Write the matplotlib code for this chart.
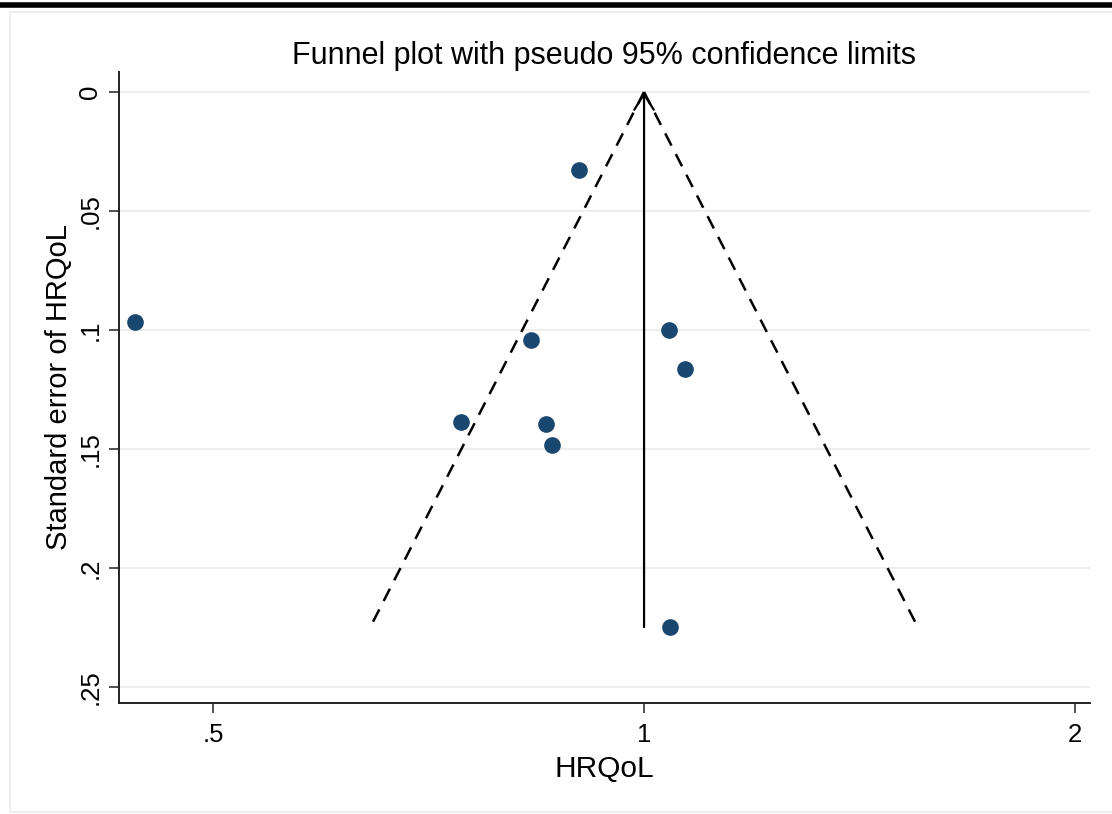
import numpy as np
import matplotlib
matplotlib.use("Agg")
import matplotlib.pyplot as plt
from matplotlib.patches import Rectangle, FancyArrowPatch
from matplotlib.lines import Line2D

# Study effects (ratio scale) and standard errors
effect = [0.900, 0.441, 0.834, 1.041, 1.068, 0.745, 0.854, 0.862, 1.043]
se = [0.0328, 0.0966, 0.1042, 0.1000, 0.1164, 0.1387, 0.1395, 0.1483, 0.2248]
pooled = 1.0
xticks = [0.5, 1, 2]
xticklabels = [".5", "1", "2"]
yticks = [0, 0.05, 0.1, 0.15, 0.2, 0.25]
yticklabels = ["0", ".05", ".1", ".15", ".2", ".25"]

plt.rcParams['font.family'] = ['Liberation Sans', 'DejaVu Sans']

W, H = 1112, 814
fig = plt.figure(figsize=(W / 100, H / 100), dpi=100)
fig.patch.set_facecolor('white')

# outer decorations
fig.add_artist(Line2D([0, 1], [1 - 4.5 / H, 1 - 4.5 / H], transform=fig.transFigure,
                      color='black', lw=4))
fig.add_artist(Rectangle((10 / W, 2 / H), 1.2, 1 - 14 / H, transform=fig.transFigure,
                         fill=False, edgecolor='#ebebeb', lw=1.2))

ax = fig.add_axes([119 / W, 1 - 703 / H, (1090 - 119) / W, (703 - 72) / H])
ax.set_xscale('log')
ax.set_xlim(0.4295, 2.05)
ax.set_ylim(0.2567, -0.0084)

for v in yticks:
    ax.axhline(v, color='#ececec', lw=1.3, zorder=0)

se_max = max(se)
z = 1.96
s = np.array([0.0, se_max])
ax.plot(pooled * np.exp(-z * s), s, color='black', lw=1.8, dashes=(5.5, 3.8), zorder=2)
ax.plot(pooled * np.exp(z * s), s, color='black', lw=1.8, dashes=(5.5, 3.8), zorder=2)
arr = FancyArrowPatch((pooled, se_max), (pooled, 0.0), arrowstyle='->,head_length=0.45,head_width=0.28',
                      mutation_scale=25, color='black', lw=1.6, shrinkA=0, shrinkB=0, zorder=2)
ax.add_patch(arr)

ax.plot(effect, se, 'o', color='#1a476f', markersize=12, markeredgewidth=0, zorder=3)

ax.set_xticks(xticks)
ax.set_xticklabels(xticklabels)
ax.xaxis.set_minor_locator(matplotlib.ticker.NullLocator())
ax.set_yticks(yticks)
ax.set_yticklabels(yticklabels, rotation=90, va='center')

ax.tick_params(axis='both', direction='out', length=7, width=1.2, color='#333333',
               labelsize=18.5, pad=5)
ax.tick_params(axis='x', pad=7.5)

for side in ['top', 'right']:
    ax.spines[side].set_visible(False)
for side in ['left', 'bottom']:
    ax.spines[side].set_linewidth(1.4)
    ax.spines[side].set_color('#222222')

ax.set_xlabel('HRQoL', fontsize=21.5)
ax.set_ylabel('Standard error of HRQoL', fontsize=21)
ax.xaxis.set_label_coords(0.5, -0.083)
ax.yaxis.set_label_coords(-0.047, 0.5)

ax.set_title('Funnel plot with pseudo 95% confidence limits', fontsize=22, pad=6)

fig.savefig('out.png', dpi=100)
